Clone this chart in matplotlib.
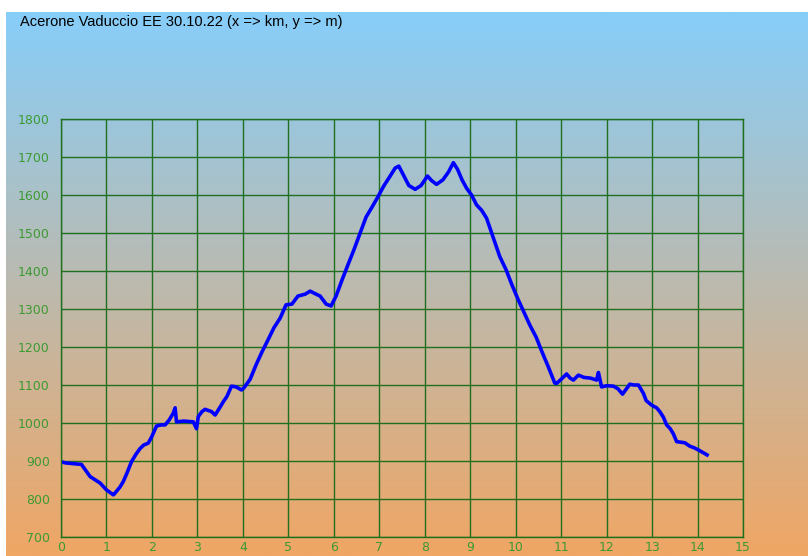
import matplotlib
matplotlib.use("Agg")
import matplotlib.pyplot as plt
import numpy as np

# distance (km) and elevation (m)
km = [0.00, 0.10, 0.45, 0.64, 0.86, 1.00, 1.15, 1.17, 1.30, 1.37, 1.45, 1.55, 1.65, 1.74,
      1.82, 1.92, 2.00, 2.10, 2.20, 2.29, 2.38, 2.47, 2.51, 2.54, 2.70, 2.91, 2.98, 3.02,
      3.10, 3.17, 3.31, 3.39, 3.50, 3.57, 3.65, 3.75, 3.85, 3.97, 4.02, 4.16, 4.29, 4.42,
      4.55, 4.68, 4.82, 4.95, 5.08, 5.21, 5.37, 5.48, 5.56, 5.70, 5.83, 5.94, 6.05, 6.18,
      6.31, 6.44, 6.58, 6.71, 6.84, 6.97, 7.10, 7.24, 7.35, 7.43, 7.55, 7.65, 7.79, 7.92,
      8.06, 8.15, 8.26, 8.40, 8.52, 8.63, 8.72, 8.82, 8.92, 9.03, 9.14, 9.25, 9.36, 9.50,
      9.65, 9.79, 9.92, 10.05, 10.18, 10.31, 10.45, 10.58, 10.71, 10.86, 10.90, 11.00,
      11.12, 11.20, 11.27, 11.38, 11.50, 11.65, 11.78, 11.82, 11.89, 12.00, 12.15, 12.25,
      12.35, 12.45, 12.51, 12.60, 12.70, 12.81, 12.87, 12.99, 13.10, 13.17, 13.25, 13.32,
      13.40, 13.47, 13.54, 13.72, 13.83, 13.92, 14.02, 14.12, 14.21]
elev = [898, 895, 891, 859, 842, 824, 811, 813, 832, 846, 868, 898, 918, 933, 942, 947,
        965, 992, 995, 995, 1008, 1026, 1040, 1003, 1005, 1003, 985, 1017, 1030, 1036,
        1030, 1021, 1042, 1056, 1070, 1097, 1095, 1087, 1092, 1115, 1153, 1187, 1218,
        1250, 1276, 1311, 1313, 1334, 1339, 1347, 1342, 1334, 1313, 1308, 1334, 1376,
        1416, 1455, 1500, 1542, 1568, 1595, 1624, 1650, 1671, 1676, 1648, 1625, 1615,
        1625, 1650, 1638, 1628, 1640, 1660, 1685, 1668, 1640, 1618, 1600, 1574, 1560,
        1539, 1490, 1438, 1403, 1363, 1326, 1292, 1258, 1226, 1187, 1150, 1105, 1104,
        1115, 1129, 1118, 1113, 1126, 1120, 1118, 1113, 1133, 1095, 1098, 1097, 1090,
        1076, 1092, 1102, 1100, 1100, 1078, 1059, 1047, 1040, 1030, 1015, 995, 985, 971,
        951, 948, 939, 935, 929, 922, 916]

title = "Acerone Vaduccio EE 30.10.22 (x => km, y => m)"
x_ticks = list(range(0, 16))
y_ticks = list(range(700, 1801, 100))

fig = plt.figure(figsize=(8.08, 5.56), dpi=100)
fig.patch.set_facecolor("white")

# gradient background (sky blue -> orange)
bg = fig.add_axes([6 / 808, 0, 802 / 808, 544 / 556])
top = np.array([135, 206, 250]) / 255
bot = np.array([240, 166, 100]) / 255
t = np.linspace(0, 1, 256)[:, None]
grad = (top * (1 - t) + bot * t)[:, None, :]
bg.imshow(grad, aspect="auto", extent=[0, 1, 0, 1])
bg.axis("off")

ax = fig.add_axes([61 / 808, 1 - 537 / 556, 682 / 808, 418 / 556])
ax.patch.set_alpha(0)
ax.plot(km, elev, color="#0000ff", lw=2.6, solid_joinstyle="round")

ax.set_xlim(0, 15)
ax.set_ylim(700, 1800)
ax.set_xticks(x_ticks)
ax.set_yticks(y_ticks)
grid_c = "#1f6f1f"
ax.grid(True, color=grid_c, lw=1.0)
for s in ax.spines.values():
    s.set_color(grid_c)
    s.set_linewidth(1.0)
ax.tick_params(axis="y", length=0, labelsize=9, pad=8)
ax.tick_params(axis="x", length=0, labelsize=9, pad=3)
for lab in ax.get_xticklabels() + ax.get_yticklabels():
    lab.set_color("#3c9a32")
    lab.set_family("DejaVu Sans")

fig.text(20 / 808, 1 - 22 / 556, title, fontsize=10.5, family="Liberation Sans",
         va="center", ha="left", color="black")

fig.savefig("out.png", dpi=100)
